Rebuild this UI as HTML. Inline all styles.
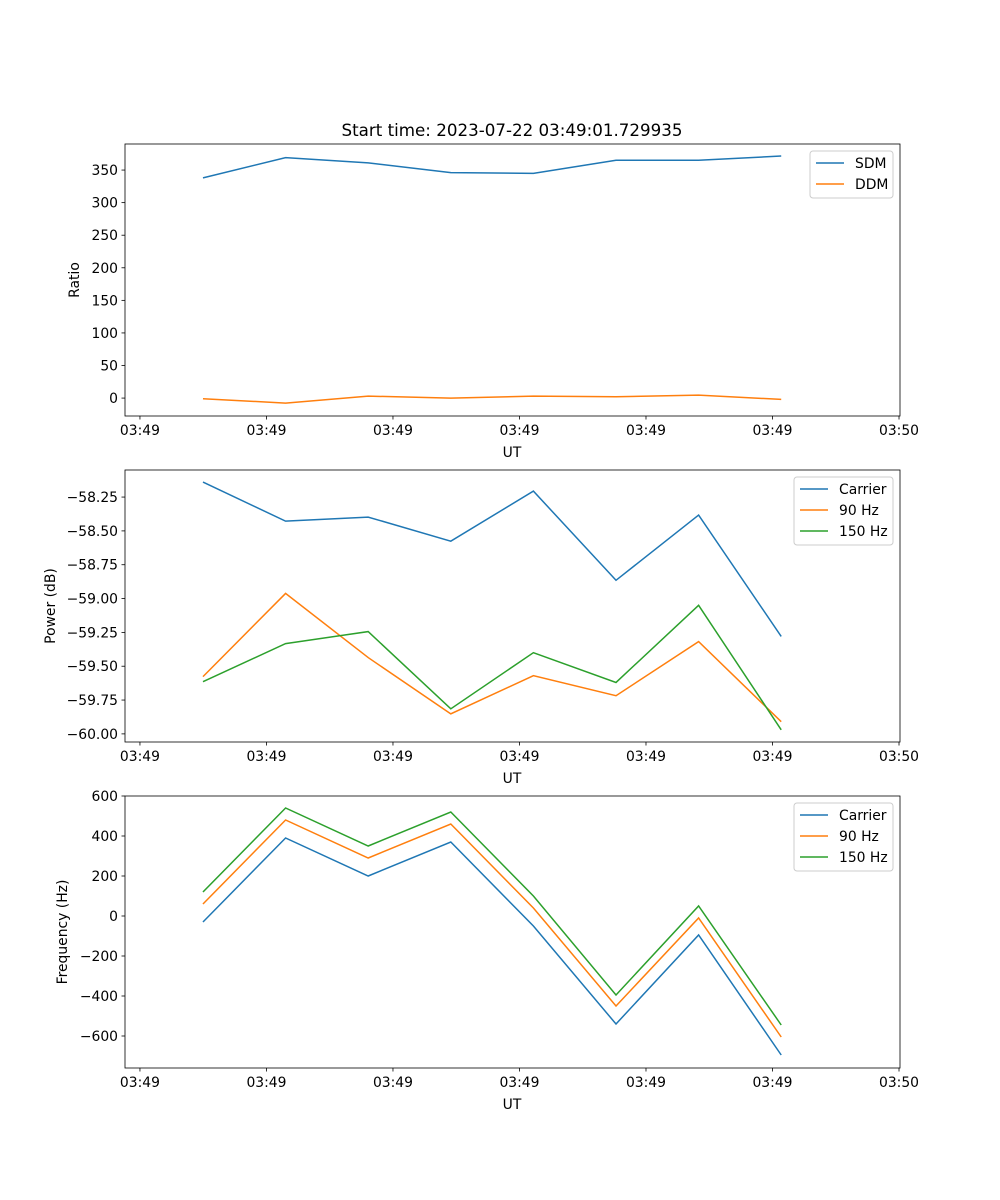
<!DOCTYPE html>
<html><head><meta charset="utf-8">
<style>
body{margin:0;background:#fff;}
svg{display:block;font-family:"DejaVu Sans","Liberation Sans",sans-serif;}
</style></head>
<body>
<svg id="chart" width="1000" height="1200" viewBox="0 0 1000 1200" xmlns="http://www.w3.org/2000/svg">
<rect width="1000" height="1200" fill="#fff"/>
<text x="512" y="136" font-size="16.7" text-anchor="middle">Start time: 2023-07-22 03:49:01.729935</text>
</svg>
<script>
// shared x (sample index)
const sampleIdx = [0,1,2,3,4,5,6,7];
const xTickVals = [-0.763,0.7685,2.3,3.8315,5.363,6.8945,8.426];
const xTickLabels = ["03:49","03:49","03:49","03:49","03:49","03:49","03:50"];

// panel 1: ratio
const ratioTicks = [0,50,100,150,200,250,300,350];
const sdmVals = [338,369,361,346,345,365,365,371.5];
const ddmVals = [-1,-7.7,3,0,3,2,4.6,-2];
// panel 2: power
const powerTicks = [-60.00,-59.75,-59.50,-59.25,-59.00,-58.75,-58.50,-58.25];
const powerTickLabels = ["\u221260.00","\u221259.75","\u221259.50","\u221259.25","\u221259.00","\u221258.75","\u221258.50","\u221258.25"];
const powCarrier = [-58.139,-58.428,-58.398,-58.576,-58.206,-58.865,-58.383,-59.28];
const pow90 = [-59.577,-58.962,-59.436,-59.852,-59.57,-59.718,-59.318,-59.91];
const pow150 = [-59.614,-59.333,-59.244,-59.815,-59.40,-59.62,-59.05,-59.97];
// panel 3: frequency
const freqTicks = [-600,-400,-200,0,200,400,600];
const freqTickLabels = ["\u2212600","\u2212400","\u2212200","0","200","400","600"];
const freqCarrier = [-30,390,200,370,-50,-540,-95,-695];
const freq90 = [60,480,290,460,40,-450,-10,-605];
const freq150 = [120,540,350,520,100,-395,50,-545];

const NS="http://www.w3.org/2000/svg";
const svg=document.getElementById('chart');
const FS=13.9;
function mk(tag,attrs,parent){const e=document.createElementNS(NS,tag);for(const k in attrs)e.setAttribute(k,attrs[k]);(parent||svg).appendChild(e);return e;}
const X0=125,X1=900,xMin=-0.944,xMax=8.438;
const xs=v=>X0+(v-xMin)/(xMax-xMin)*(X1-X0);

function panel(key,top,bottom,yMin,yMax,yTicks,yTickLabels,ylabel,series,legend){
  const g=mk('g',{});
  
  
  const ys=v=>bottom-(v-yMin)/(yMax-yMin)*(bottom-top);
  series.forEach(s=>{
    const p=mk('polyline',{points:s.vals.map((v,i)=>xs(sampleIdx[i])+','+ys(v)).join(' '),fill:'none',stroke:s.color,'stroke-width':1.5},g);
    
    
  });
  const fr=mk('rect',{x:X0,y:top,width:X1-X0,height:bottom-top,fill:'none',stroke:'#000','stroke-width':0.8},g);
  
  
  xTickVals.forEach((v,i)=>{
    const x=xs(v);
    mk('line',{x1:x,x2:x,y1:bottom,y2:bottom+3.5,stroke:'#000','stroke-width':0.8},g);
    const t=mk('text',{x:x,y:bottom+19,'font-size':FS,'text-anchor':'middle'},g);
    t.textContent=xTickLabels[i];
    
    
  });
  yTicks.forEach((v,i)=>{
    const y=ys(v);
    mk('line',{x1:X0-3.5,x2:X0,y1:y,y2:y,stroke:'#000','stroke-width':0.8},g);
    const t=mk('text',{x:X0-7,y:y+5,'font-size':FS,'text-anchor':'end'},g);
    t.textContent=yTickLabels[i];
    
    
  });
  const xl=mk('text',{x:512,y:bottom+41,'font-size':FS,'text-anchor':'middle'},g);
  xl.textContent='UT';
  
  
  const yl=mk('text',{x:legend.ylx,y:(top+bottom)/2,'font-size':FS,'text-anchor':'middle',transform:'rotate(-90 '+legend.ylx+' '+(top+bottom)/2+')'},g);
  yl.textContent=ylabel;
  
  
  const lg=mk('g',{},g);
  
  
  const lx=legend.x,ly=top+7,h=series.length*21+5;
  mk('rect',{x:lx,y:ly,width:893-lx,height:h,rx:3,fill:'#fff','fill-opacity':0.8,stroke:'#ccc','stroke-width':1},lg);
  series.forEach((s,i)=>{
    const yy=ly+12+i*21;
    const e=mk('g',{},lg);
    
    
    mk('line',{x1:lx+6,x2:lx+34,y1:yy,y2:yy,stroke:s.color,'stroke-width':1.5},e);
    const t=mk('text',{x:lx+45,y:yy+5,'font-size':FS},e);
    t.textContent=s.label;
  });
}
const C1='#1f77b4',C2='#ff7f0e',C3='#2ca02c';
panel('ratio',144,416,-27.5,390,ratioTicks,ratioTicks.map(String),'Ratio',
  [{id:'sdm',label:'SDM',vals:sdmVals,color:C1},{id:'ddm',label:'DDM',vals:ddmVals,color:C2}],{x:810,ylx:79});
panel('power',470,742,-60.06,-58.05,powerTicks,powerTickLabels,'Power (dB)',
  [{id:'carrier',label:'Carrier',vals:powCarrier,color:C1},{id:'90hz',label:'90 Hz',vals:pow90,color:C2},{id:'150hz',label:'150 Hz',vals:pow150,color:C3}],{x:794,ylx:55});
panel('frequency',796,1068,-760,600,freqTicks,freqTickLabels,'Frequency (Hz)',
  [{id:'carrier',label:'Carrier',vals:freqCarrier,color:C1},{id:'90hz',label:'90 Hz',vals:freq90,color:C2},{id:'150hz',label:'150 Hz',vals:freq150,color:C3}],{x:794,ylx:67});
</script>
</body></html>
